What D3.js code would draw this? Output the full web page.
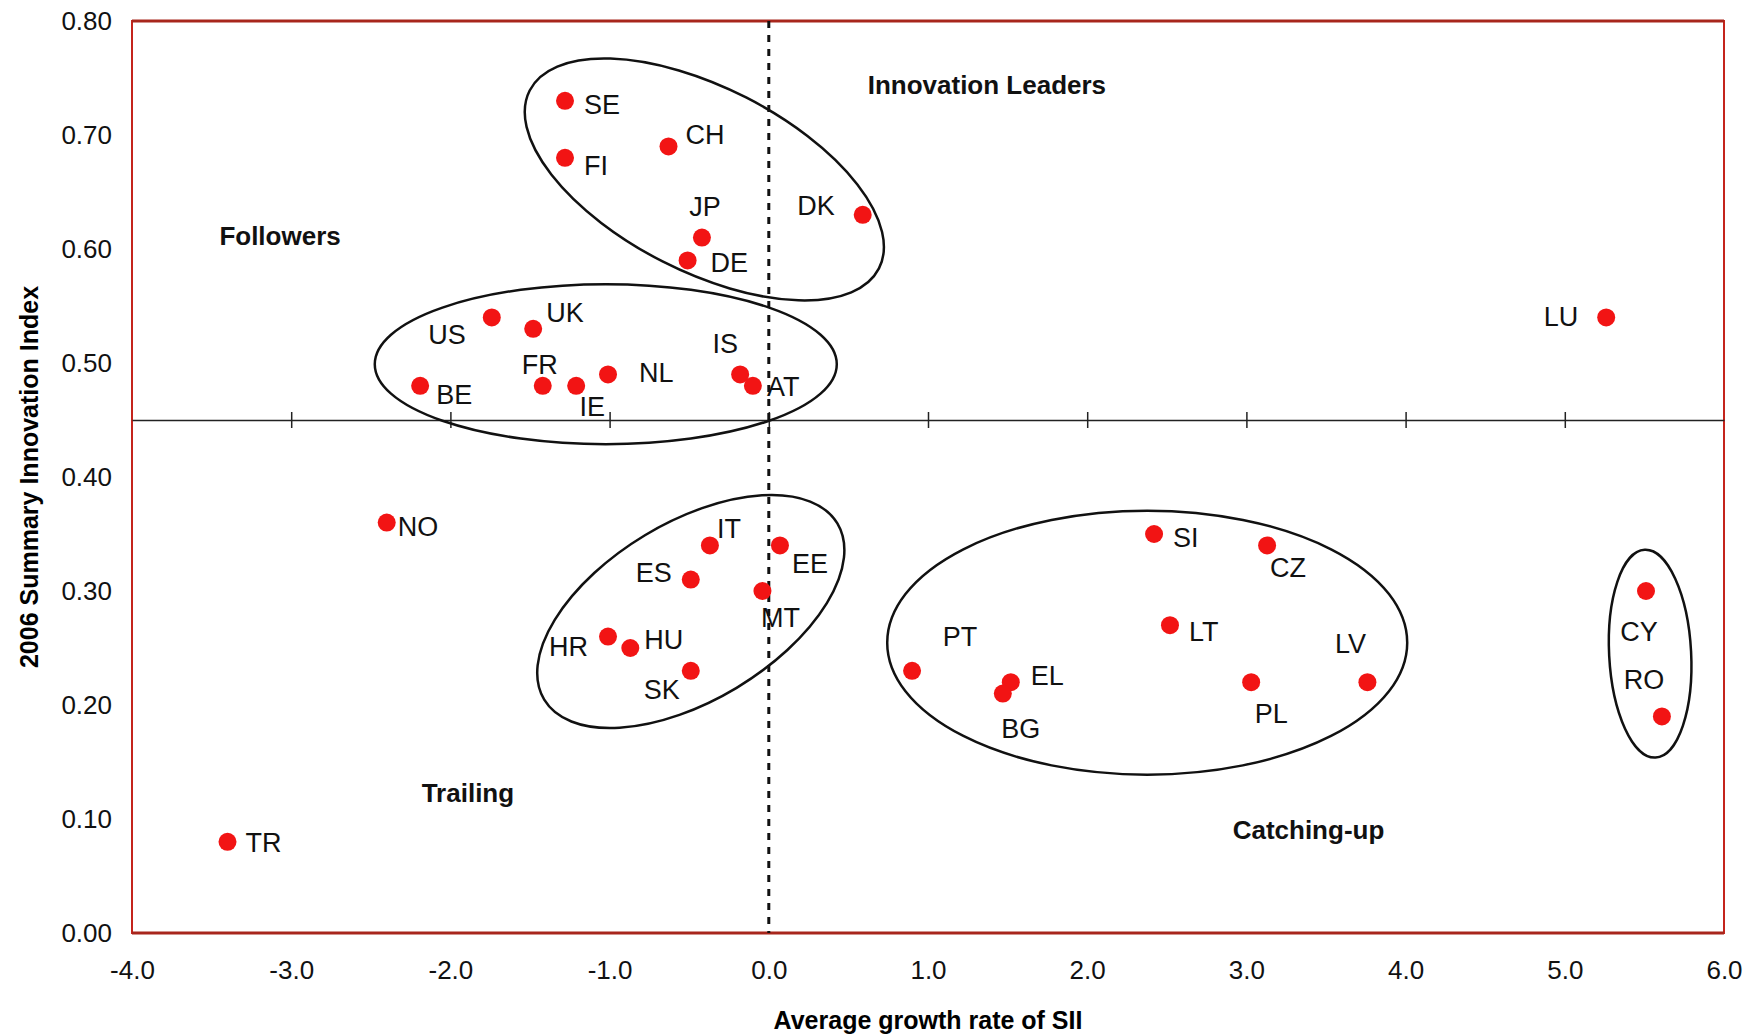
<!DOCTYPE html>
<html>
<head>
<meta charset="utf-8">
<script src="https://cdn.jsdelivr.net/npm/d3@7"></script>
<style>
  body { margin: 0; background: #fff; }
  text { font-family: "Liberation Sans", Arial, sans-serif; }
</style>
</head>
<body>
<script>
// data
var countries = ["SE","FI","CH","JP","DE","DK","LU","US","UK","BE","FR","IE","NL","IS","AT",
                 "NO","TR","IT","EE","ES","MT","HR","HU","SK","PT","EL","BG","SI","CZ","LT","PL","LV","CY","RO"];
var growth = [-1.28,-1.28,-0.63,-0.42,-0.51,0.59,5.26,-1.74,-1.48,-2.19,-1.42,-1.21,-1.01,-0.18,-0.10,
              -2.40,-3.40,-0.37,0.07,-0.49,-0.04,-1.01,-0.87,-0.49,0.90,1.52,1.47,2.42,3.13,2.52,3.03,3.76,5.51,5.61];
var sii = [0.73,0.68,0.69,0.61,0.59,0.63,0.54,0.54,0.53,0.48,0.48,0.48,0.49,0.49,0.48,
           0.36,0.08,0.34,0.34,0.31,0.30,0.26,0.25,0.23,0.23,0.22,0.21,0.35,0.34,0.27,0.22,0.22,0.30,0.19];
var xTicks = [-4,-3,-2,-1,0,1,2,3,4,5,6];
var yTicks = [0,0.1,0.2,0.3,0.4,0.5,0.6,0.7,0.8];
var groupNames = ["Innovation Leaders","Followers","Trailing","Catching-up"];
var groupX = [1.37,-3.07,-1.89,3.39];
var groupY = [0.744,0.611,0.123,0.090];

// label placement (anchor, dx, dy in px)
var labelPos = {
  SE:["start",19,4], FI:["start",19,8], CH:["start",17,-11], JP:["middle",3,-31], DE:["start",23,3],
  DK:["end",-28,-9], LU:["end",-28,0], US:["end",-26,18], UK:["start",13,-16], BE:["start",16,9],
  FR:["middle",-3,-21], IE:["middle",16,21], NL:["start",31,-1], IS:["middle",-15,-30], AT:["start",14,1],
  NO:["start",11,4], TR:["start",18,1], IT:["start",7,-16], EE:["start",12,19], ES:["end",-19,-7],
  MT:["middle",18,27], HR:["end",-20,10], HU:["start",14,-8], SK:["end",-11,19], PT:["middle",48,-34],
  EL:["start",20,-6], BG:["middle",18,35], SI:["start",19,4], CZ:["middle",21,23], LT:["start",19,7],
  PL:["middle",20,32], LV:["middle",-17,-38], CY:["middle",-7,41], RO:["middle",-18,-36]
};

// cluster ellipses: centre in data units, radii in px, rotation in degrees
var ellipses = [
  {cx:-0.405, cy:0.661, rx:196, ry:92, rot:27},
  {cx:-1.024, cy:0.499, rx:231, ry:80, rot:0},
  {cx:-0.49,  cy:0.282, rx:171, ry:89, rot:-31},
  {cx:2.377,  cy:0.2547, rx:260, ry:132, rot:0},
  {cx:5.536,  cy:0.245, rx:41, ry:104, rot:-3}
];

var margin = {top: 21, right: 29, bottom: 102, left: 132},
    width = 1753 - margin.left - margin.right,
    height = 1035 - margin.top - margin.bottom;

var svg = d3.select("body")
  .append("svg")
    .attr("width", 1753)
    .attr("height", 1035)
  .append("g")
    .attr("transform", "translate(" + margin.left + "," + margin.top + ")");

var x = d3.scaleLinear().domain([-4, 6]).range([0, width]);
var y = d3.scaleLinear().domain([0, 0.8]).range([height, 0]);

function hyphen(f) {
  return function(d) { return f(d).replace("\u2212", "-"); };
}

// plot frame
svg.append("rect")
  .attr("width", width)
  .attr("height", height)
  .attr("fill", "none")
  .attr("stroke", "#c4241c")
  .attr("stroke-width", 2);
svg.append("line")
  .attr("x1", 0).attr("x2", width).attr("y1", 0).attr("y2", 0)
  .attr("stroke", "#a8261c").attr("stroke-width", 3);
svg.append("line")
  .attr("x1", 0).attr("x2", width).attr("y1", height).attr("y2", height)
  .attr("stroke", "#a8261c").attr("stroke-width", 3);

// bottom and left axes: labels only
var xAxis = svg.append("g")
  .attr("transform", "translate(0," + height + ")")
  .call(d3.axisBottom(x).tickValues(xTicks).tickFormat(hyphen(d3.format(".1f"))).tickSize(0).tickPadding(28));
xAxis.select(".domain").remove();
xAxis.selectAll("text").style("font-size", "26px").attr("fill", "#111");

var yAxis = svg.append("g")
  .call(d3.axisLeft(y).tickValues(yTicks).tickFormat(d3.format(".2f")).tickSize(0).tickPadding(20));
yAxis.select(".domain").remove();
yAxis.selectAll("text").style("font-size", "26px").attr("fill", "#111");

// middle axis at 0.45 crossing the plot
var mid = svg.append("g")
  .attr("transform", "translate(0," + y(0.45) + ")")
  .call(d3.axisBottom(x).tickValues(xTicks.slice(1, -1)).tickSizeInner(8).tickSizeOuter(0).tickFormat(""));
mid.select(".domain").attr("stroke", "#222").attr("stroke-width", 1.5);
mid.selectAll(".tick line").attr("y1", -8).attr("stroke", "#222").attr("stroke-width", 1.5);

// dotted line at zero growth
svg.append("line")
  .attr("x1", x(0)).attr("x2", x(0))
  .attr("y1", 0).attr("y2", height)
  .attr("stroke", "#111")
  .attr("stroke-width", 3)
  .attr("stroke-dasharray", "7,7");

// ellipses
svg.append("g").selectAll("ellipse")
  .data(ellipses)
  .enter()
  .append("ellipse")
    .attr("transform", function(d) { return "translate(" + x(d.cx) + "," + y(d.cy) + ") rotate(" + d.rot + ")"; })
    .attr("rx", function(d) { return d.rx; })
    .attr("ry", function(d) { return d.ry; })
    .attr("fill", "none")
    .attr("stroke", "#111")
    .attr("stroke-width", 2.5);

// points
svg.append("g").selectAll("circle")
  .data(countries)
  .enter()
  .append("circle")
    .attr("cx", function(d, i) { return x(growth[i]); })
    .attr("cy", function(d, i) { return y(sii[i]); })
    .attr("r", 9)
    .style("fill", "#f21414");

// country labels
svg.append("g").selectAll("text")
  .data(countries)
  .enter()
  .append("text")
    .attr("x", function(d, i) { return x(growth[i]) + labelPos[d][1]; })
    .attr("y", function(d, i) { return y(sii[i]) + labelPos[d][2]; })
    .attr("text-anchor", function(d) { return labelPos[d][0]; })
    .attr("dominant-baseline", "central")
    .style("font-size", "27px")
    .attr("fill", "#111")
    .text(function(d) { return d; });

// quadrant names
svg.append("g").selectAll("text")
  .data(groupNames)
  .enter()
  .append("text")
    .attr("x", function(d, i) { return x(groupX[i]); })
    .attr("y", function(d, i) { return y(groupY[i]); })
    .attr("text-anchor", "middle")
    .attr("dominant-baseline", "central")
    .style("font-size", "26px")
    .style("font-weight", "bold")
    .attr("fill", "#111")
    .text(function(d) { return d; });

// axis titles
svg.append("text")
  .attr("x", width / 2)
  .attr("y", height + 96)
  .style("text-anchor", "middle")
  .style("font-size", "25px")
  .style("font-weight", "bold")
  .text("Average growth rate of SII");
svg.append("text")
  .attr("transform", "rotate(-90)")
  .attr("x", -height / 2)
  .attr("y", 38 - margin.left)
  .style("text-anchor", "middle")
  .style("font-size", "25px")
  .style("font-weight", "bold")
  .text("2006 Summary Innovation Index");
</script>
</body>
</html>
